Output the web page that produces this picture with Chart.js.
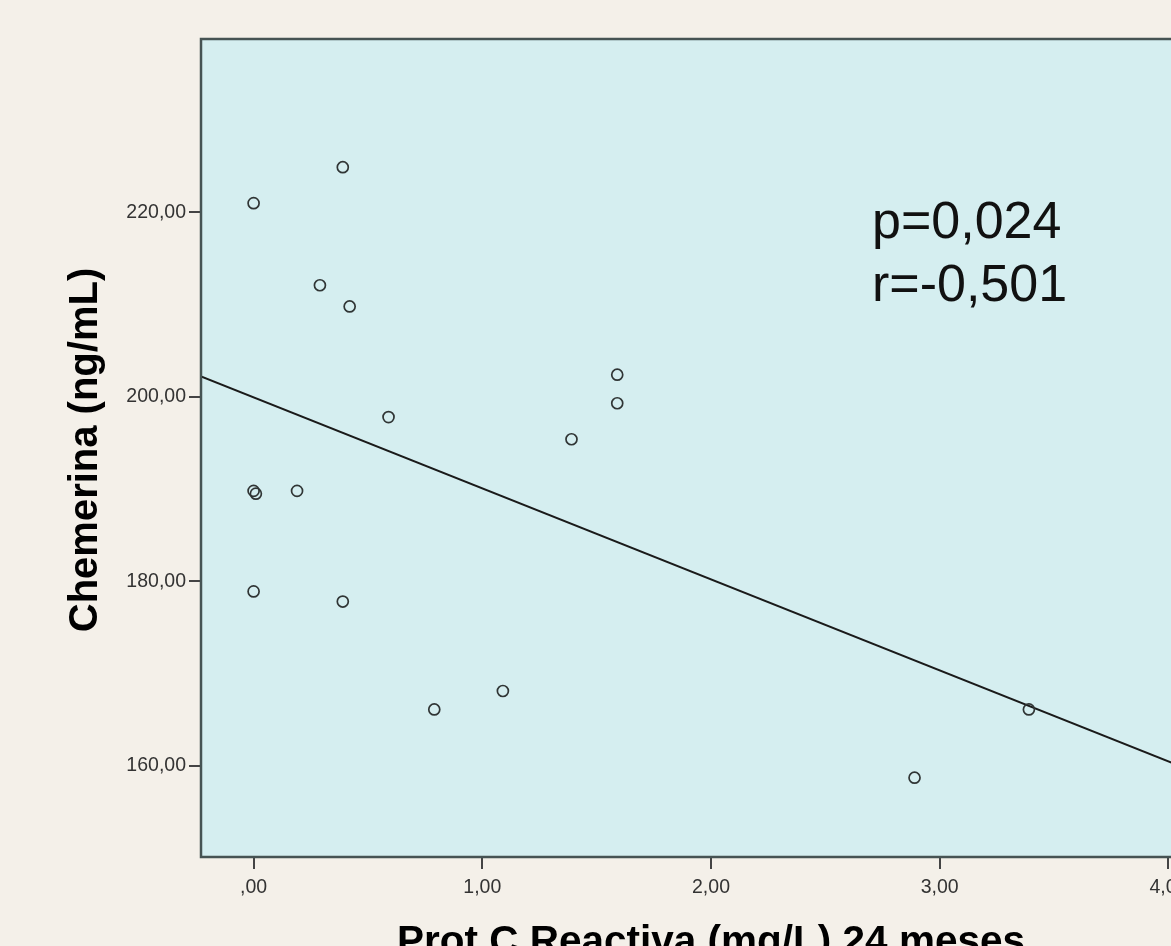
<!DOCTYPE html>
<html>
<head>
<meta charset="utf-8">
<script src="https://cdn.jsdelivr.net/npm/chart.js@4/dist/chart.umd.min.js"></script>
<style>
  html, body { margin: 0; padding: 0; overflow: hidden; background: #f4f0e9; }
  canvas { display: block; }
</style>
</head>
<body>
<canvas id="scatter" width="1240" height="946"></canvas>
<script>
// PCR a los 24 meses vs chemerina
const pcr = [0.00, 0.39, 0.29, 0.42, 0.59, 1.39, 1.59, 1.59, 0.00, 0.01, 0.19, 0.00, 0.39, 0.79, 1.09, 2.89, 3.39];
const chemerina = [221.0, 224.9, 212.1, 209.8, 197.8, 195.4, 202.4, 199.3, 189.8, 189.5, 189.8, 178.9, 177.8, 166.1, 168.1, 158.7, 166.1];

// recta de ajuste (extremos)
const fitX = [-0.23, 4.23];
const fitY = [202.2, 158.2];

const xTicks = [0, 1, 2, 3, 4];
const yTicks = [160, 180, 200, 220];
const statsText = ['p=0,024', 'r=-0,501'];
const xTitle = 'Prot C Reactiva (mg/L) 24 meses';
const yTitle = 'Chemerina (ng/mL)';

const pageBg = '#f4f0e9';
const plotBg = '#d5eef0';
const frameColor = '#465353';

// formato tipo SPSS: 1,00 / ,00
function fmt(v) {
  let s = v.toFixed(2).replace('.', ',');
  if (s.startsWith('0,')) s = s.slice(1);
  return s;
}

const decor = {
  id: 'decor',
  beforeDraw(chart) {
    const { ctx, chartArea: a, width, height } = chart;
    ctx.save();
    ctx.fillStyle = pageBg;
    ctx.fillRect(0, 0, width, height);
    ctx.fillStyle = plotBg;
    ctx.fillRect(a.left, a.top, a.right - a.left, a.bottom - a.top);
    ctx.restore();
  },
  afterDraw(chart) {
    const { ctx, chartArea: a } = chart;
    ctx.save();
    ctx.strokeStyle = frameColor;
    ctx.lineWidth = 2.5;
    ctx.strokeRect(a.left, a.top, a.right - a.left, a.bottom - a.top);

    // texto de estadisticos
    ctx.fillStyle = '#111';
    ctx.font = '52px "Liberation Sans", Arial, sans-serif';
    ctx.textAlign = 'left';
    ctx.textBaseline = 'alphabetic';
    ctx.fillText(statsText[0], a.left + 671, a.top + 199);
    ctx.fillText(statsText[1], a.left + 671, a.top + 262);

    // titulos de ejes
    ctx.fillStyle = '#000';
    ctx.font = 'bold 40.5px "Liberation Sans", Arial, sans-serif';
    ctx.textAlign = 'center';
    ctx.fillText(xTitle, (a.left + a.right) / 2, 954);
    ctx.font = 'bold 40px "Liberation Sans", Arial, sans-serif';
    ctx.translate(86, (a.top + a.bottom) / 2 + 2);
    ctx.rotate(-Math.PI / 2);
    ctx.textBaseline = 'middle';
    ctx.fillText(yTitle, 0, 0);
    ctx.restore();
  }
};

const tickFont = { family: '"Liberation Sans", Arial, sans-serif', size: 19.5 };

new Chart(document.getElementById('scatter').getContext('2d'), {
  type: 'scatter',
  data: {
    datasets: [
      {
        data: pcr.map((x, i) => ({ x, y: chemerina[i] })),
        pointStyle: 'circle',
        pointRadius: 5.5,
        pointHoverRadius: 5.5,
        pointBorderWidth: 1.7,
        borderColor: '#303535',
        backgroundColor: 'rgba(0,0,0,0)'
      },
      {
        type: 'line',
        data: fitX.map((x, i) => ({ x, y: fitY[i] })),
        borderColor: '#1a1a1a',
        borderWidth: 2,
        pointRadius: 0,
        fill: false
      }
    ]
  },
  options: {
    responsive: false,
    animation: false,
    devicePixelRatio: 1,
    layout: { padding: { left: 0, top: 39, right: 19, bottom: 0 } },
    plugins: {
      legend: { display: false },
      tooltip: { enabled: false }
    },
    scales: {
      x: {
        type: 'linear',
        min: -0.23,
        max: 4.23,
        afterFit(scale) { scale.height = 89; },
        afterBuildTicks(scale) { scale.ticks = xTicks.map(v => ({ value: v })); },
        border: { display: false },
        grid: { drawOnChartArea: false, drawTicks: true, tickLength: 12, tickColor: '#444', lineWidth: 2 },
        ticks: { color: '#333', font: tickFont, padding: 7, maxRotation: 0, callback: v => fmt(v) }
      },
      y: {
        type: 'linear',
        min: 150.1,
        max: 238.8,
        afterFit(scale) { scale.width = 201; },
        afterBuildTicks(scale) { scale.ticks = yTicks.map(v => ({ value: v })); },
        border: { display: false },
        grid: { drawOnChartArea: false, drawTicks: true, tickLength: 12, tickColor: '#444', lineWidth: 2 },
        ticks: { color: '#333', font: tickFont, padding: 3, callback: v => fmt(v) }
      }
    }
  },
  plugins: [decor]
});
</script>
</body>
</html>
